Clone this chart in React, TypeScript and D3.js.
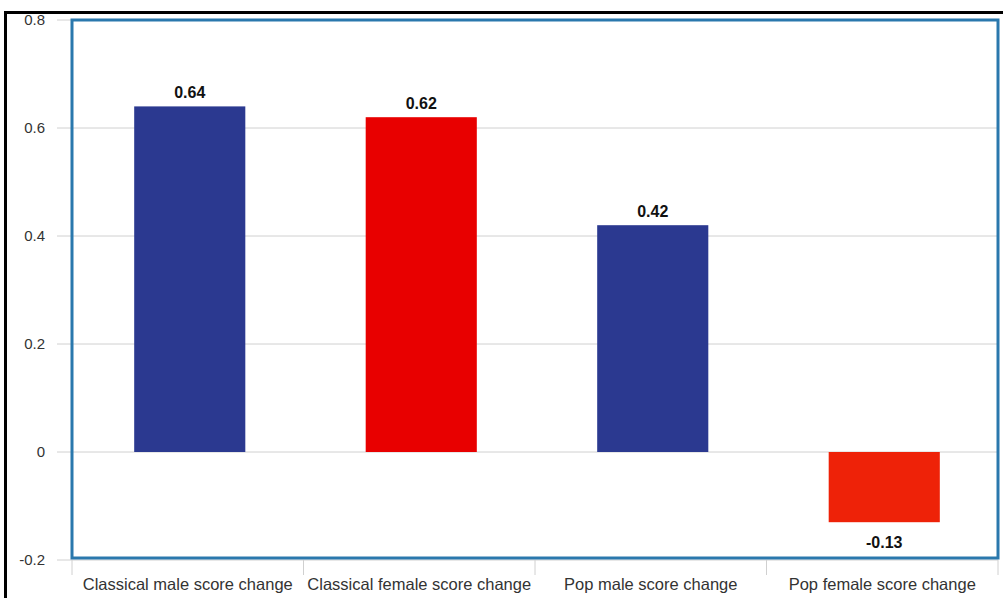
import React from "react";
import * as d3 from "d3";

const categories = [
  "Classical male score change",
  "Classical female score change",
  "Pop male score change",
  "Pop female score change",
];
const values = [0.64, 0.62, 0.42, -0.13];
const barColors = ["#2b3990", "#e80000", "#2b3990", "#ee2208"];
const yTicks = [-0.2, 0, 0.2, 0.4, 0.6, 0.8];

export default function App() {
  const W = 1003, H = 598;
  const left = 72, right = 998, top = 20, bottom = 560;
  const x = d3.scaleBand<string>().domain(categories).range([left + 2, right + 2]).paddingInner(0.52).paddingOuter(0.26);
  const band = d3.scaleBand<string>().domain(categories).range([left, right]);
  const y = d3.scaleLinear().domain([-0.2, 0.8]).range([bottom, top]);
  const fmt = (v: number) => (v === 0 ? "0" : d3.format(".1f")(v).replace("\u2212", "-"));
  return (
    <svg width={W} height={H} style={{ position: "absolute", left: 0, top: 0, background: "#fff" }}
      fontFamily="'Liberation Sans', Arial, sans-serif">
      <rect x={0} y={0} width={W} height={H} fill="#fff" />
      {/* gridlines */}
      {yTicks.map((t) => (
        <g key={t}>
          <line x1={57} x2={right} y1={y(t)} y2={y(t)} stroke="#d0d0d0" strokeWidth={1} />
          <text x={45} y={y(t) + 5} textAnchor="end" fontSize={15} fill="#333">{fmt(t)}</text>
        </g>
      ))}
      {/* category ticks */}
      {categories.map((c) => (
        <line key={"t" + c} x1={band(c)!} x2={band(c)!} y1={bottom} y2={575} stroke="#d0d0d0" />
      ))}
      <line x1={right} x2={right} y1={bottom} y2={575} stroke="#d0d0d0" />
      {/* bars */}
      {categories.map((c, i) => {
        const v = values[i];
        const y0 = y(0), y1 = y(v);
        return (
          <g key={c}>
            <rect x={x(c)!} y={Math.min(y0, y1)} width={x.bandwidth()} height={Math.abs(y1 - y0)} fill={barColors[i]} />
            <text x={x(c)! + x.bandwidth() / 2} y={v >= 0 ? y1 - 8 : y1 + 26} textAnchor="middle" fontSize={16}
              fontWeight="bold" fill="#111">{v.toFixed(2)}</text>
          </g>
        );
      })}
      {/* category labels */}
      {categories.map((c) => (
        <text key={"l" + c} x={band(c)! + band.bandwidth() / 2} y={590} textAnchor="middle" fontSize={16.5} fill="#333">{c}</text>
      ))}
      {/* plot frame */}
      <rect x={left} y={top} width={right - left} height={bottom - top - 2} fill="none" stroke="#2a78ad" strokeWidth={3} />
      {/* outer black border */}
      <line x1={5} x2={W} y1={12.5} y2={12.5} stroke="#000" strokeWidth={3} />
      <line x1={5.5} x2={5.5} y1={11} y2={H} stroke="#000" strokeWidth={3} />
    </svg>
  );
}
